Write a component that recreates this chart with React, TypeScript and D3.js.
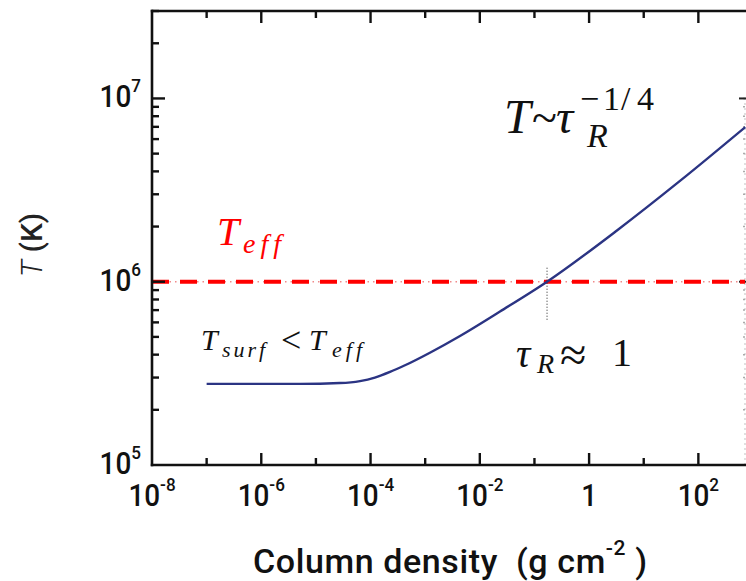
import React from 'react';
import * as d3 from 'd3';

// ---- data ----
const columnDensity = [1e-7, 5.1e-6, 2.76e-5, 6.4e-5, 1.2e-4, 2.27e-4, 4.27e-4, 1.22e-3, 4.34e-3, 2.34e-2, 0.17, 3.28, 46.7, 723];
const temperature = [2.77e5, 2.77e5, 2.8e5, 2.87e5, 3.0e5, 3.22e5, 3.5e5, 4.1e5, 5.06e5, 6.88e5, 1.0e6, 1.91e6, 3.56e6, 6.98e6];
const xTickExponents = [-8, -7, -6, -5, -4, -3, -2, -1, 0, 1, 2];
const xLabelExponents = [-8, -6, -4, -2, 0, 2];
const yLabelExponents = [5, 6, 7];
const tEff = 1e6;
const tauOneColumn = 0.17;
const xTitle = 'Column density  (g cm';
const xTitleSup = '-2';

const W = 746;
const H = 581;
const left = 152;
const top = 11;
const bottom = 465;
const rightFrame = 745;

const x = d3.scaleLog().domain([1e-8, 1e3]).range([152, 753]);
const y = d3.scaleLog().domain([1e5, 3e7]).range([465, 11]);

const yMinorValues: number[] = [];
for (let e = 5; e <= 7; e++) {
  for (let m = 1; m <= 9; m++) {
    const v = m * Math.pow(10, e);
    if (v <= 3e7) yMinorValues.push(v);
  }
}

const axisColor = '#111';
const curveColor = '#2b3483';
const labelFont = 'Roboto, "DejaVu Sans", sans-serif';
const mathFont = '"Liberation Serif", "DejaVu Serif", serif';

function TickLabelX({ e }: { e: number }) {
  const px = x(Math.pow(10, e));
  return (
    <g transform={`translate(${px},506) scale(0.9,1)`}>
      <text textAnchor="middle" fontFamily={labelFont} fontWeight={500} fontSize={31} fill="#111">
        {e === 0 ? '1' : '10'}
        {e !== 0 && (
          <tspan dy={-15} fontSize={19}>{String(e)}</tspan>
        )}
      </text>
    </g>
  );
}

function TickLabelY({ e }: { e: number }) {
  const py = y(Math.pow(10, e)) + 9;
  return (
    <g transform={`translate(141,${py}) scale(0.9,1)`}>
      <text textAnchor="end" fontFamily={labelFont} fontWeight={500} fontSize={31} fill="#111">
        10<tspan dy={-15} fontSize={19}>{String(e)}</tspan>
      </text>
    </g>
  );
}

export default function App() {
  const line = d3
    .line<number>()
    .x((_, i) => x(columnDensity[i]))
    .y((d) => y(d))
    .curve(d3.curveMonotoneX);
  const path = line(temperature) || '';

  const yEff = y(tEff);
  const xTau = x(tauOneColumn);

  return (
    <svg width={W} height={H} style={{ position: 'absolute', left: 0, top: 0, background: '#fff' }}>
      <rect x={0} y={0} width={W} height={H} fill="#fff" />

      {/* right frame (faint dotted) */}
      <line x1={rightFrame} x2={rightFrame} y1={y(1e7)} y2={bottom} stroke="#999" strokeWidth={1.2} strokeDasharray="1 4" />
      {yMinorValues.filter((v) => v <= 1e7).map((v, i) => (
        <line key={'rm' + i} x1={rightFrame - 2} x2={rightFrame} y1={y(v)} y2={y(v)} stroke="#aaa" strokeWidth={1.5} />
      ))}
      {[1e6, 1e7].map((v, i) => (
        <line key={'rM' + i} x1={rightFrame - 6} x2={W} y1={y(v)} y2={y(v)} stroke="#222" strokeWidth={2} />
      ))}

      {/* Teff dash-dot line */}
      <line x1={left} x2={rightFrame} y1={yEff} y2={yEff} stroke="#f08a8a" strokeWidth={1.6} strokeDasharray="1.5 4" strokeDashoffset={-1} />
      <line x1={left} x2={rightFrame} y1={yEff} y2={yEff} stroke="#ff0000" strokeWidth={4} strokeDasharray="17 11" />

      {/* dotted vertical marker at tau_R = 1 */}
      <line x1={xTau} x2={xTau} y1={yEff - 14} y2={yEff + 38} stroke="#222" strokeWidth={1} strokeDasharray="1 2" />

      {/* curve */}
      <path d={path} fill="none" stroke={curveColor} strokeWidth={2.4} />

      {/* axes frame */}
      <line x1={left} x2={left} y1={top - 1.2} y2={bottom + 1.2} stroke={axisColor} strokeWidth={2.6} />
      <line x1={left - 1.2} x2={W} y1={bottom} y2={bottom} stroke={axisColor} strokeWidth={2.6} />
      <line x1={left - 1.2} x2={W} y1={top} y2={top} stroke={axisColor} strokeWidth={2.6} />

      {/* x ticks bottom and top */}
      {xTickExponents.map((e) => {
        const px = x(Math.pow(10, e));
        const len = e % 2 === 0 ? 12 : 7;
        if (e === -8) return null;
        return (
          <g key={'xt' + e}>
            <line x1={px} x2={px} y1={bottom} y2={bottom - len} stroke={axisColor} strokeWidth={2.4} />
            <line x1={px} x2={px} y1={top} y2={top + len} stroke={axisColor} strokeWidth={2.4} />
          </g>
        );
      })}

      {/* y ticks left */}
      {yMinorValues.map((v, i) => {
        const isMajor = Math.abs(Math.log10(v) - Math.round(Math.log10(v))) < 1e-9;
        if (v === 1e5) return null;
        return (
          <line key={'yt' + i} x1={left} x2={left + (isMajor ? 13 : 7)} y1={y(v)} y2={y(v)} stroke={axisColor} strokeWidth={2.4} />
        );
      })}

      {/* tick labels */}
      {xLabelExponents.map((e) => (
        <TickLabelX key={'xl' + e} e={e} />
      ))}
      {yLabelExponents.map((e) => (
        <TickLabelY key={'yl' + e} e={e} />
      ))}

      {/* axis titles */}
      <g transform={`translate(253,573)`}>
        <text fontFamily={labelFont} fontWeight={500} fontSize={34} letterSpacing={0.6} fill="#111" style={{ whiteSpace: 'pre' }}>
          {xTitle}
          <tspan dy={-18} fontSize={21}>{xTitleSup}</tspan>
          <tspan dy={18}>{' )'}</tspan>
        </text>
      </g>
      <g transform={`translate(42,245) rotate(-90)`}>
        <text textAnchor="middle" fontFamily={labelFont} fontWeight={500} fontSize={30} fill="#222">
          <tspan fontStyle="italic" fontWeight={300}>T</tspan>
          <tspan>{' (K)'}</tspan>
        </text>
      </g>

      {/* annotations */}
      <g fontFamily={mathFont} fill="#ff0000">
        <text x={217} y={245} fontSize={40} fontStyle="italic">T</text>
        <text x={243} y={253} fontSize={28} fontStyle="italic" letterSpacing={5}>eff</text>
      </g>

      <g fontFamily={mathFont} fill="#111">
        <text x={504} y={133} fontSize={48} fontStyle="italic">T</text>
        <text x={532} y={133} fontSize={46}>~</text>
        <text x={556} y={133} fontSize={48} fontStyle="italic">τ</text>
        <text x={587} y={147} fontSize={34} fontStyle="italic">R</text>
        <text x={580} y={110} fontSize={34}>−</text>
        <text x={603} y={110} fontSize={34}>1</text>
        <text x={621} y={110} fontSize={34}>/</text>
        <text x={637} y={110} fontSize={34}>4</text>
      </g>

      <g fontFamily={mathFont} fill="#111">
        <text x={201} y={350} fontSize={30} fontStyle="italic">T</text>
        <text x={222} y={357} fontSize={22} fontStyle="italic" letterSpacing={3}>surf</text>
        <text x={281} y={352} fontSize={36}>&lt;</text>
        <text x={309} y={350} fontSize={30} fontStyle="italic">T</text>
        <text x={332} y={357} fontSize={22} fontStyle="italic" letterSpacing={4}>eff</text>
      </g>

      <g fontFamily={mathFont} fill="#111">
        <text x={516} y={367} fontSize={40} fontStyle="italic">τ</text>
        <text x={537} y={373} fontSize={28} fontStyle="italic">R</text>
        <text x={560} y={371} fontSize={48}>≈</text>
        <text x={612} y={366} fontSize={40}>1</text>
      </g>
    </svg>
  );
}
